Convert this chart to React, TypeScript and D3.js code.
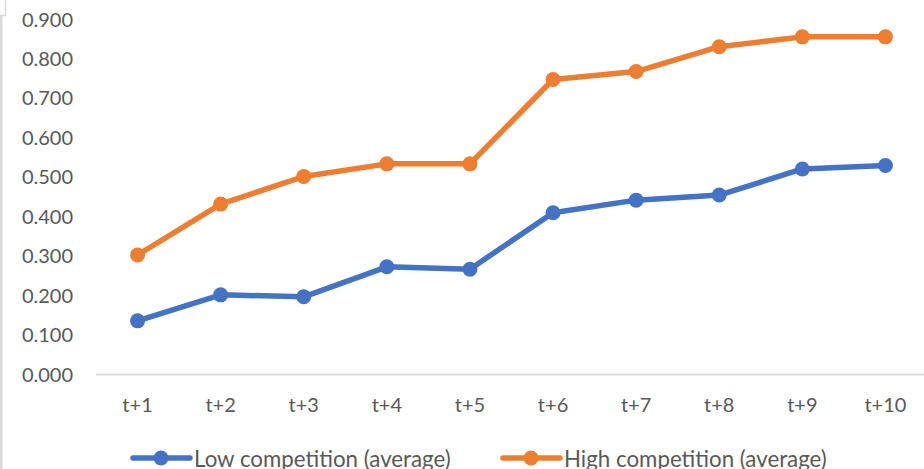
import React, { useEffect, useRef } from "react";
import * as d3 from "d3";

const categories = ["t+1", "t+2", "t+3", "t+4", "t+5", "t+6", "t+7", "t+8", "t+9", "t+10"];
const lowCompetition = [0.136, 0.202, 0.197, 0.273, 0.267, 0.41, 0.442, 0.455, 0.521, 0.53];
const highCompetition = [0.303, 0.432, 0.502, 0.534, 0.534, 0.748, 0.768, 0.831, 0.856, 0.856];
const yTicks = [0, 0.1, 0.2, 0.3, 0.4, 0.5, 0.6, 0.7, 0.8, 0.9];
const seriesNames = ["Low competition (average)", "High competition (average)"];
const seriesColors = ["#4472C4", "#ED7D31"];

const W = 924;
const H = 469;
const FONT = "Lato, 'Open Sans', sans-serif";

export default function App() {
  const ref = useRef<SVGSVGElement | null>(null);

  useEffect(() => {
    const svg = d3.select(ref.current);
    svg.selectAll("*").remove();

    const x = d3.scalePoint<string>().domain(categories).range([96, 927]).padding(0.5);
    const y = d3.scaleLinear().domain([0, 0.9]).range([374.5, 19.5]);

    // outer frame edge
    svg.append("rect").attr("x", 0).attr("y", 15).attr("width", 2.5).attr("height", H - 15).attr("fill", "#d9d9d9");
    svg.append("path").attr("d", "M0,15.5H5.5V0").attr("fill", "none").attr("stroke", "#d9d9d9").attr("stroke-width", 1.5);

    // y tick labels
    svg
      .append("g")
      .selectAll("text")
      .data(yTicks)
      .join("text")
      .attr("x", 73)
      .attr("y", (d) => y(d))
      .attr("dy", "0.35em")
      .attr("text-anchor", "end")
      .attr("font-family", FONT)
      .attr("font-size", 20)
      .attr("fill", "#595959")
      .text((d) => d3.format(".3f")(d));

    // category axis
    svg
      .append("line")
      .attr("x1", 96)
      .attr("x2", W)
      .attr("y1", y(0))
      .attr("y2", y(0))
      .attr("stroke", "#d9d9d9")
      .attr("stroke-width", 2);

    svg
      .append("g")
      .selectAll("text")
      .data(categories)
      .join("text")
      .attr("x", (d) => x(d) as number)
      .attr("y", 405)
      .attr("dy", "0.35em")
      .attr("text-anchor", "middle")
      .attr("font-family", FONT)
      .attr("font-size", 20)
      .attr("fill", "#595959")
      .text((d) => d);

    const series = [lowCompetition, highCompetition];
    const line = d3
      .line<number>()
      .x((_, i) => x(categories[i]) as number)
      .y((d) => y(d));

    series.forEach((vals, si) => {
      const g = svg.append("g");
      g.append("path")
        .attr("d", line(vals) as string)
        .attr("fill", "none")
        .attr("stroke", seriesColors[si])
        .attr("stroke-width", 5.5)
        .attr("stroke-linejoin", "round")
        .attr("stroke-linecap", "round");
      g.selectAll("circle")
        .data(vals)
        .join("circle")
        .attr("cx", (_, i) => x(categories[i]) as number)
        .attr("cy", (d) => y(d))
        .attr("r", 7.5)
        .attr("fill", seriesColors[si]);
    });

    // legend
    const legendX = [133, 503];
    const legendY = 458;
    series.forEach((_, si) => {
      const g = svg.append("g").attr("transform", `translate(${legendX[si]},${legendY})`);
      g.append("line")
        .attr("x1", 0)
        .attr("x2", 57)
        .attr("y1", 0)
        .attr("y2", 0)
        .attr("stroke", seriesColors[si])
        .attr("stroke-width", 5.5)
        .attr("stroke-linecap", "round");
      g.append("circle").attr("cx", 28).attr("cy", 0).attr("r", 7.5).attr("fill", seriesColors[si]);
      g.append("text")
        .attr("x", 61)
        .attr("y", 1)
        .attr("dy", "0.35em")
        .attr("font-family", FONT)
        .attr("font-size", 22.3)
        .attr("fill", "#595959")
        .text(seriesNames[si]);
    });
  }, []);

  return (
    <svg
      ref={ref}
      width={W}
      height={H}
      style={{ position: "absolute", left: 0, top: 0, background: "#fff" }}
    />
  );
}
